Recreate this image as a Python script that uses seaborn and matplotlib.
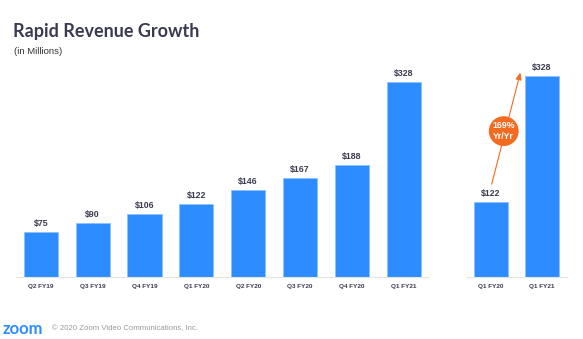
import matplotlib
matplotlib.use("Agg")
import matplotlib.pyplot as plt
import seaborn as sns
import pandas as pd

quarters = ["Q2 FY19", "Q3 FY19", "Q4 FY19", "Q1 FY20", "Q2 FY20", "Q3 FY20", "Q4 FY20", "Q1 FY21"]
revenue = [75, 90, 106, 122, 146, 167, 188, 328]
yoy_quarters = ["Q1 FY20", "Q1 FY21"]
yoy_revenue = [122, 328]
growth_label = "169%\nYr/Yr"
title = "Rapid Revenue Growth"
subtitle = "(in Millions)"
footer = "© 2020 Zoom Video Communications, Inc."

BLUE = "#2D8CFF"
DARK = "#3A3B50"
ORANGE = "#F26B21"
ARIAL = ["Liberation Sans", "DejaVu Sans"]

sns.set_theme(style="white")
plt.rcParams["font.family"] = ["Lato", "DejaVu Sans"]

W, H = 583, 339
fig = plt.figure(figsize=(W / 100, H / 100), dpi=100)

def px_axes(x0, x1, ytop, ybot):
    return fig.add_axes([x0 / W, 1 - ybot / H, (x1 - x0) / W, (ybot - ytop) / H])

ax1 = px_axes(16, 428, 60, 277)
ax2 = px_axes(467, 567, 60, 277)

df1 = pd.DataFrame({"q": quarters, "v": revenue})
df2 = pd.DataFrame({"q": yoy_quarters, "v": yoy_revenue})

sns.barplot(data=df1, x="q", y="v", ax=ax1, color=BLUE, width=0.66,
            edgecolor="#8EC0FF", linewidth=0.6, saturation=1)
sns.barplot(data=df2, x="q", y="v", ax=ax2, color=BLUE, width=0.66,
            edgecolor="#8EC0FF", linewidth=0.6, saturation=1)

ax1.set_xlim(-0.48, 7.47)
ax1.set_ylim(0, 365)
ax2.set_xlim(-0.47, 1.49)
ax2.set_ylim(0, 354)

for ax, vals in ((ax1, revenue), (ax2, yoy_revenue)):
    for i, v in enumerate(vals):
        ax.annotate(f"${v}", (i, v), xytext=(0, 3), textcoords="offset points",
                    ha="center", va="bottom", fontsize=6.3, fontweight="bold",
                    color=DARK, family=ARIAL)
    ax.set_xlabel("")
    ax.set_ylabel("")
    ax.set_yticks([])
    for s in ("top", "right", "left"):
        ax.spines[s].set_visible(False)
    ax.spines["bottom"].set_color("#E3E3E3")
    ax.spines["bottom"].set_linewidth(0.8)
    ax.tick_params(axis="x", length=0, pad=5, labelsize=4.6, labelcolor=DARK)
    for t in ax.get_xticklabels():
        t.set_fontweight("bold")
        t.set_family(ARIAL)

# growth arrow
ax2.annotate("", xy=(0.59, 338), xytext=(0.0, 147),
             arrowprops=dict(arrowstyle="-|>,head_length=0.35,head_width=0.15",
                             color=ORANGE, lw=0.8), annotation_clip=False)
ax2.text(0.25, 238, growth_label, ha="center", va="center", fontsize=6.3,
         fontweight="bold", color="white", linespacing=1.35, family=ARIAL,
         bbox=dict(boxstyle="circle,pad=0.42", fc=ORANGE, ec="none"))

fig.text(13 / W, 1 - 31 / H, title, fontsize=13, fontweight="bold", color=DARK,
         va="center", ha="left")
fig.text(14 / W, 1 - 51 / H, subtitle, fontsize=6.8, color="#333333",
         va="center", ha="left", family=ARIAL)
fig.text(3 / W, 1 - 329 / H, "zoom", fontsize=12, fontweight="bold", color=BLUE,
         va="center", ha="left")
fig.text(52 / W, 1 - 329 / H, footer, fontsize=5.6, color="#9A9A9A",
         va="center", ha="left", family=ARIAL)

fig.savefig("out.png", dpi=100)
